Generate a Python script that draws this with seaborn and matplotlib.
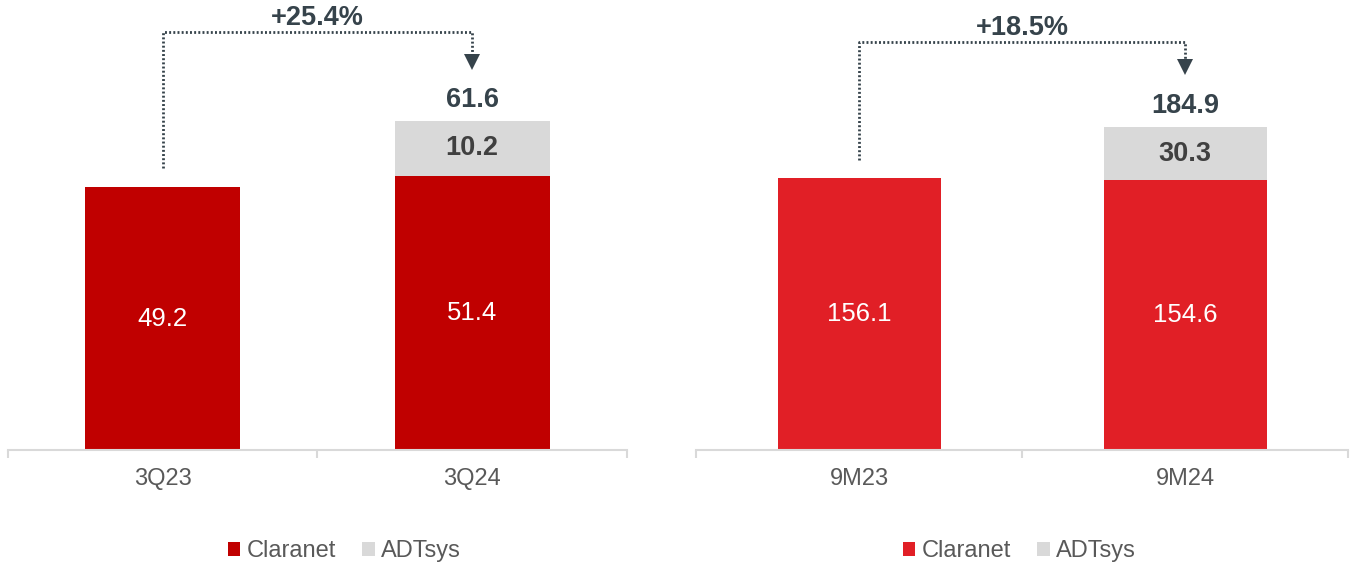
import matplotlib
matplotlib.use("Agg")
import matplotlib.pyplot as plt
import seaborn as sns
import pandas as pd
from matplotlib.patches import Patch

# ---- data ----
q_periods = ["3Q23", "3Q24"]
q_claranet = [49.2, 51.4]
q_adtsys = [0.0, 10.2]
q_growth = "+25.4%"

m_periods = ["9M23", "9M24"]
m_claranet = [156.1, 154.6]
m_adtsys = [0.0, 30.3]
m_growth = "+18.5%"

legend_labels = ["Claranet", "ADTsys"]

# ---- style ----
sns.set_style("white")
plt.rcParams["font.family"] = ["Liberation Sans", "DejaVu Sans"]

DARK_RED = "#C00000"
RED = "#E11F26"
GREY = "#D9D9D9"
SLATE = "#36434B"
TICK_TXT = "#595959"
AXIS_GREY = "#D9D9D9"

W, H = 1352, 566
fig = plt.figure(figsize=(W / 100, H / 100), dpi=100)


def panel(rect, periods, clar, adt, red, ylim_top, growth, px_per_unit,
          start_px, top_px, base_px, tip_px, ms, legend_center_x):
    ax = fig.add_axes(rect)
    totals = [c + a for c, a in zip(clar, adt)]
    df = pd.DataFrame({"period": periods, "claranet": clar,
                       "adtsys": adt, "total": totals})
    sns.barplot(data=df, x="period", y="total", color=GREY, width=0.5,
                saturation=1, ax=ax, edgecolor="none")
    sns.barplot(data=df, x="period", y="claranet", color=red, width=0.5,
                saturation=1, ax=ax, edgecolor="none")
    ax.set_xlim(-0.5, len(periods) - 0.5)
    ax.set_ylim(0, ylim_top)
    ax.set_xlabel("")
    ax.set_ylabel("")
    ax.set_yticks([])
    for s in ["top", "right", "left"]:
        ax.spines[s].set_visible(False)
    ax.spines["bottom"].set_color(AXIS_GREY)
    ax.spines["bottom"].set_linewidth(1.5)
    ax.set_xticks(range(len(periods)))
    ax.set_xticklabels(periods)
    ax.tick_params(axis="x", which="major", bottom=True, length=0, pad=13,
                   labelsize=17, labelcolor=TICK_TXT)
    ax.set_xticks([i - 0.5 for i in range(len(periods) + 1)], minor=True)
    ax.tick_params(axis="x", which="minor", bottom=True, length=6, width=1.5,
                   color=AXIS_GREY, direction="out")

    # value labels
    for i, (c, a, t) in enumerate(zip(clar, adt, totals)):
        ax.text(i, c / 2, f"{c:.1f}", ha="center", va="center",
                color="white", fontsize=18.5)
        if a > 0:
            ax.text(i, c + a / 2, f"{a:.1f}", ha="center", va="center",
                    color="#404040", fontsize=19.5, fontweight="bold")
            ax.text(i, t + 21 / px_per_unit, f"{t:.1f}", ha="center",
                    va="center", color=SLATE, fontsize=19.5,
                    fontweight="bold")

    # growth bracket
    base = 450
    def y(px):
        return (base - px) / px_per_unit
    x0, x1 = 0, len(periods) - 1
    ax.plot([x0, x0, x1, x1], [y(start_px), y(top_px), y(top_px), y(base_px)],
            color=SLATE, lw=2, linestyle=(0, (0.7, 0.8)),
            solid_capstyle="butt", clip_on=False)
    ax.plot([x1], [y((base_px + tip_px) / 2)], marker="v", ms=ms,
            color=SLATE, clip_on=False, markeredgewidth=0)
    ax.text((x0 + x1) / 2, y(top_px - 14), growth, ha="center",
            va="center", color=SLATE, fontsize=19.5, fontweight="bold",
            clip_on=False)

    handles = [Patch(facecolor=red, edgecolor="none"),
               Patch(facecolor=GREY, edgecolor="none")]
    fig.legend(handles, legend_labels, loc="center",
               bbox_to_anchor=(legend_center_x / W, 1 - 551 / H),
               ncol=2, frameon=False, fontsize=17, handlelength=0.55,
               handleheight=0.55, handletextpad=0.25, columnspacing=1.1,
               labelcolor=TICK_TXT)
    return ax


panel([8 / W, 116 / H, 619 / W, 450 / H], q_periods, q_claranet, q_adtsys,
      DARK_RED, 450 / 5.34, q_growth, 5.34,
      start_px=168, top_px=32, base_px=53, tip_px=70, ms=12,
      legend_center_x=344)
panel([696 / W, 116 / H, 652 / W, 450 / H], m_periods, m_claranet, m_adtsys,
      RED, 450 / 1.745, m_growth, 1.745,
      start_px=160, top_px=42, base_px=60, tip_px=75, ms=11,
      legend_center_x=1019)

fig.savefig("out.png", dpi=100)
